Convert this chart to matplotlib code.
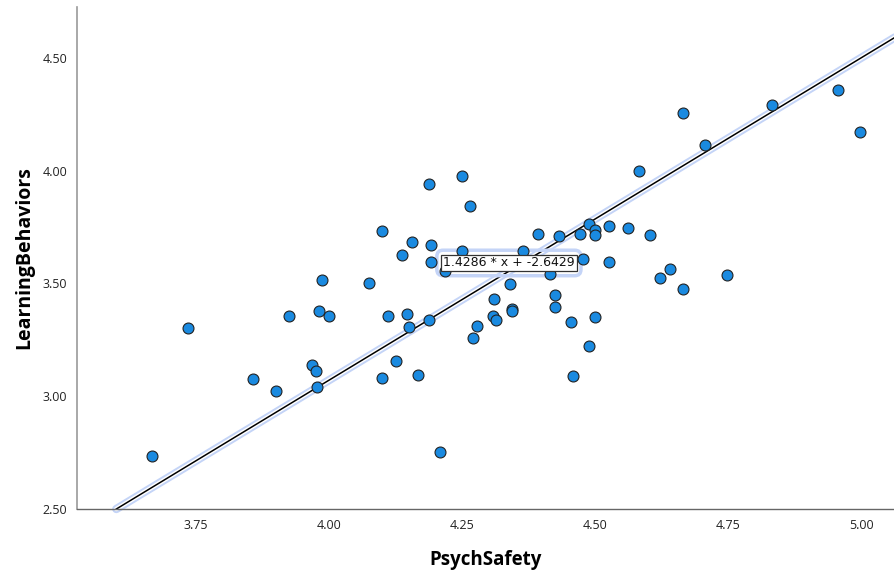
import matplotlib
matplotlib.use("Agg")
import matplotlib.pyplot as plt
import numpy as np

# values
psych_safety = [
    3.667, 3.735, 3.857, 3.900, 3.925, 3.968, 3.976, 3.977, 3.981, 3.987,
    4.000, 4.075, 4.100, 4.100, 4.111, 4.126, 4.137, 4.147, 4.150, 4.156,
    4.167, 4.188, 4.188, 4.192, 4.192, 4.209, 4.218, 4.250, 4.250, 4.265,
    4.271, 4.278, 4.310, 4.308, 4.314, 4.340, 4.344, 4.344, 4.365, 4.393,
    4.415, 4.425, 4.425, 4.432, 4.455, 4.459, 4.472, 4.477, 4.489, 4.489,
    4.500, 4.500, 4.500, 4.526, 4.526, 4.562, 4.583, 4.603, 4.622, 4.641,
    4.665, 4.665, 4.707, 4.748, 4.833, 4.957, 4.998,
]
learning_behaviors = [
    2.735, 3.303, 3.076, 3.023, 3.356, 3.139, 3.112, 3.041, 3.378, 3.516,
    3.356, 3.502, 3.733, 3.081, 3.356, 3.156, 3.626, 3.365, 3.307, 3.684,
    3.094, 3.338, 3.941, 3.671, 3.595, 2.753, 3.555, 3.977, 3.644, 3.844,
    3.258, 3.311, 3.431, 3.356, 3.338, 3.498, 3.387, 3.378, 3.644, 3.720,
    3.542, 3.449, 3.396, 3.711, 3.329, 3.090, 3.720, 3.609, 3.764, 3.223,
    3.737, 3.715, 3.351, 3.595, 3.755, 3.746, 4.000, 3.715, 3.524, 3.564,
    3.476, 4.256, 4.114, 3.538, 4.292, 4.358, 4.172,
]
slope = 1.4286
intercept = -2.6429
x_ticks = [3.75, 4.00, 4.25, 4.50, 4.75, 5.00]
y_ticks = [2.50, 3.00, 3.50, 4.00, 4.50]

xlim = (3.526, 5.062)
ylim = (2.5, 4.726)
halo = "#c4d4f7"

plt.rcParams["font.family"] = ["Open Sans", "DejaVu Sans"]

fig = plt.figure(figsize=(8.94, 5.72), dpi=100)
ax = fig.add_axes([0.0861, 0.1101, 0.9139, 0.8777])

# fit line: light-blue outline, white inside, black core
x0 = (ylim[0] - intercept) / slope
xs = np.array([x0, xlim[1] + 0.05])
ys = slope * xs + intercept
ax.plot(xs, ys, color=halo, lw=6, solid_capstyle="round", zorder=1, clip_on=False)
ax.plot(xs, ys, color="white", lw=3.2, solid_capstyle="round", zorder=1.1, clip_on=False)
ax.plot(xs, ys, color="black", lw=1.1, zorder=2)

ax.scatter(psych_safety, learning_behaviors, s=62, c="#1a8ae0",
           edgecolors="#222222", linewidths=0.8, zorder=3)

label = f"{slope:.4f} * x + {intercept:.4f}"
lx, ly = 4.338, 3.591
ax.text(lx, ly, label, fontsize=9, color="none", ha="center", va="center",
        family="DejaVu Sans", zorder=2.5,
        bbox=dict(boxstyle="round,pad=0.5", fc="none", ec=halo, lw=2.5))
ax.text(lx, ly, label, fontsize=9, color="#111111", ha="center", va="center",
        family="DejaVu Sans", zorder=5,
        bbox=dict(boxstyle="square,pad=0.15", fc="white", ec="#333333", lw=0.9))

ax.set_xlim(*xlim)
ax.set_ylim(*ylim)
ax.set_xticks(x_ticks)
ax.set_yticks(y_ticks)
ax.set_xticklabels([f"{v:.2f}" for v in x_ticks])
ax.set_yticklabels([f"{v:.2f}" for v in y_ticks])
ax.tick_params(length=0, labelsize=9, colors="#222222", pad=7)

for s in ["top", "right"]:
    ax.spines[s].set_visible(False)
ax.spines["left"].set_color("#9a9a9a")
ax.spines["bottom"].set_color("#666666")
ax.spines["left"].set_linewidth(1.2)
ax.spines["bottom"].set_linewidth(1.0)

ax.set_xlabel("PsychSafety", fontsize=13.5, fontweight="bold", labelpad=13)
ax.set_ylabel("LearningBehaviors", fontsize=14, fontweight="bold", labelpad=6)

fig.savefig("out.png", dpi=100)
